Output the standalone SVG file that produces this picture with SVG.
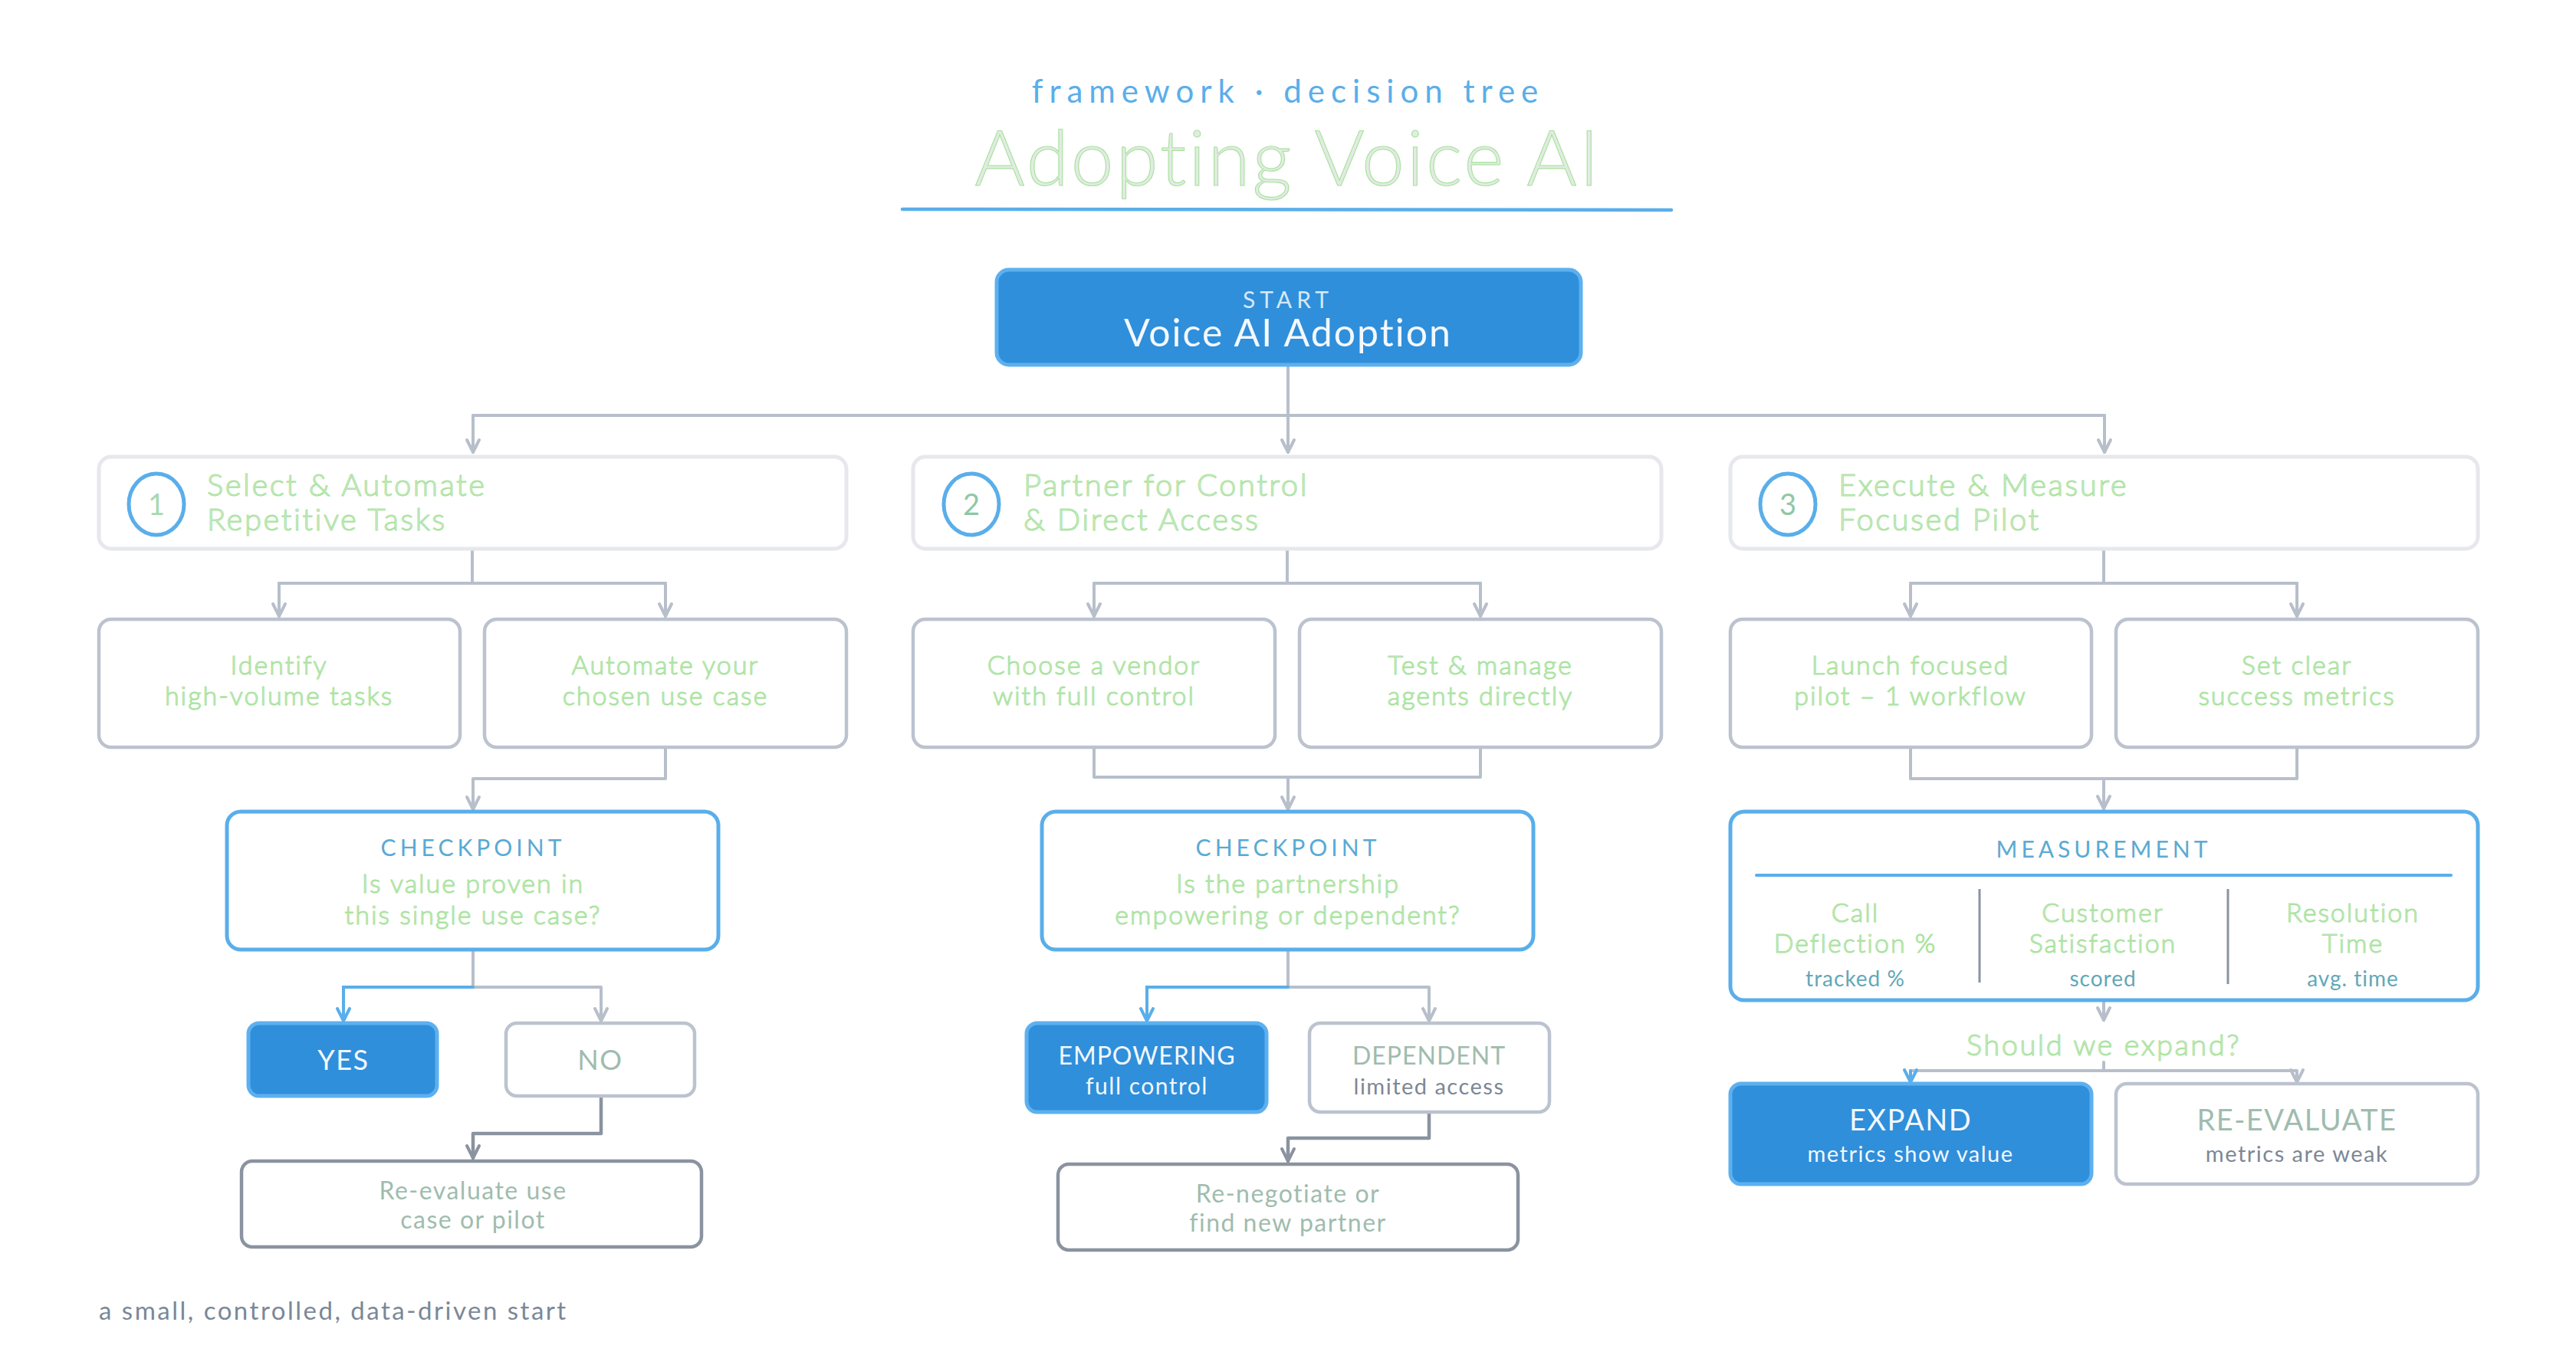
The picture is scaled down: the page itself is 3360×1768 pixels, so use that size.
<svg xmlns="http://www.w3.org/2000/svg" width="3360" height="1768" viewBox="0 0 3360 1768">
<defs>
<style>
text{font-family:Lato,"Noto Sans","Liberation Sans",sans-serif;text-anchor:middle}
.lt{fill:#e2ebe4;stroke:#a8e39c;stroke-width:1.1;font-weight:300}
.ph{font-size:40px;text-anchor:start;letter-spacing:2.5px}
.task{font-size:34px;letter-spacing:2px}
.box{fill:#fff;stroke:#bcc3cf;stroke-width:4.5}
.phase{fill:#fff;stroke:#e6e8ec;stroke-width:5}
.blue{fill:#fff;stroke:#5aaeea;stroke-width:5}
.solid{fill:#2f8fdb;stroke:#5db0ef;stroke-width:5}
.dark{fill:#fff;stroke:#8a939f;stroke-width:4.5}
.num{fill:none;stroke:#5aaeea;stroke-width:5}
.cap{font-size:30px;letter-spacing:5px;fill:#5aaad4}
.wt{fill:#f4f8fc}
.gg{fill:#9fbcae}
.dg{fill:#7d8794}
.ls{letter-spacing:1.5px}
.sub{fill:#62a8b8;font-size:28px;letter-spacing:1px}
.c{fill:none;stroke:#b8bfcb;stroke-width:4;stroke-linecap:round;stroke-linejoin:round}
.cb{fill:none;stroke:#5aaeea;stroke-width:4;stroke-linecap:round}
.cd{fill:none;stroke:#8a939f;stroke-width:4.5;stroke-linecap:round;stroke-linejoin:round}
</style>
<marker id="ag" viewBox="-20 -12 24 24" refX="0" refY="0" markerWidth="24" markerHeight="24" markerUnits="userSpaceOnUse" orient="auto"><path d="M-16,-8 L0,0 L-16,8" fill="none" stroke="#b8bfcb" stroke-width="4" stroke-linecap="round" stroke-linejoin="round"/></marker>
<marker id="ab" viewBox="-20 -12 24 24" refX="0" refY="0" markerWidth="24" markerHeight="24" markerUnits="userSpaceOnUse" orient="auto"><path d="M-16,-8 L0,0 L-16,8" fill="none" stroke="#5aaeea" stroke-width="4" stroke-linecap="round" stroke-linejoin="round"/></marker>
<marker id="ad" viewBox="-20 -12 24 24" refX="0" refY="0" markerWidth="24" markerHeight="24" markerUnits="userSpaceOnUse" orient="auto"><path d="M-16,-8 L0,0 L-16,8" fill="none" stroke="#8a939f" stroke-width="4" stroke-linecap="round" stroke-linejoin="round"/></marker>
</defs>
<rect width="3360" height="1768" fill="#fff"/>

<g id="title">
<text x="1680" y="134" font-size="42" letter-spacing="8" fill="#5aaeea">framework · decision tree</text>
<text class="lt" x="1680" y="242" font-size="100" letter-spacing="3">Adopting Voice AI</text>
<path d="M1177,273 Q1680,275 2180,274" fill="none" stroke="#5aaeea" stroke-width="4.5" stroke-linecap="round"/>
</g>

<g id="connectors">
<path class="c" d="M1680,478 V542 M617,542 H2745"/>
<path class="c" d="M617,542 V590" marker-end="url(#ag)"/>
<path class="c" d="M1680,542 V590" marker-end="url(#ag)"/>
<path class="c" d="M2745,542 V590" marker-end="url(#ag)"/>

<path class="c" d="M616,716 V761 M364,761 H868"/>
<path class="c" d="M364,761 V804" marker-end="url(#ag)"/>
<path class="c" d="M868,761 V804" marker-end="url(#ag)"/>
<path class="c" d="M1679,716 V761 M1427,761 H1931"/>
<path class="c" d="M1427,761 V804" marker-end="url(#ag)"/>
<path class="c" d="M1931,761 V804" marker-end="url(#ag)"/>
<path class="c" d="M2744,716 V761 M2492,761 H2996"/>
<path class="c" d="M2492,761 V804" marker-end="url(#ag)"/>
<path class="c" d="M2996,761 V804" marker-end="url(#ag)"/>

<path class="c" d="M868,975 V1016 H617 V1056" marker-end="url(#ag)"/>
<path class="c" d="M1427,975 V1014 H1931 V975 M1680,1014 V1056" marker-end="url(#ag)"/>
<path class="c" d="M2492,975 V1016 H2996 V975 M2744,1016 V1055" marker-end="url(#ag)"/>

<path class="c" d="M617,1239 V1288 H784 V1332" marker-end="url(#ag)"/>
<path class="cb" d="M617,1288 H448 V1332" marker-end="url(#ab)"/>
<path class="cd" d="M784,1430 V1479 H617 V1511" marker-end="url(#ad)"/>

<path class="c" d="M1680,1239 V1288 H1864 V1332" marker-end="url(#ag)"/>
<path class="cb" d="M1680,1288 H1496 V1332" marker-end="url(#ab)"/>
<path class="cd" d="M1864,1451 V1485 H1680 V1515" marker-end="url(#ad)"/>

<path class="c" d="M2744,1305 V1331" marker-end="url(#ag)"/>
<path class="c" d="M2744,1386 V1397 M2492,1397 H2996 V1412" marker-end="url(#ag)"/>
<path class="cb" d="M2492,1397 V1412" marker-end="url(#ab)"/>
</g>

<g id="start">
<rect class="solid" x="1300" y="352" width="762" height="124" rx="16"/>
<text x="1680" y="402" font-size="30" letter-spacing="6" fill="#d6e8f7">START</text>
<text class="wt" x="1680" y="452" font-size="50" letter-spacing="2">Voice AI Adoption</text>
</g>

<g id="phase1">
<rect class="phase" x="129" y="596" width="975" height="120" rx="16"/>
<ellipse class="num" cx="204" cy="658" rx="36" ry="40"/>
<text x="204" y="672" font-size="38" fill="#a9d9b0">1</text>
<text class="lt ph" x="270" y="647">Select &amp; Automate</text>
<text class="lt ph" x="270" y="692">Repetitive Tasks</text>
</g>
<g id="phase2">
<rect class="phase" x="1191" y="596" width="976" height="120" rx="16"/>
<ellipse class="num" cx="1267" cy="658" rx="36" ry="40"/>
<text x="1267" y="672" font-size="38" fill="#8fc7a5">2</text>
<text class="lt ph" x="1335" y="647">Partner for Control</text>
<text class="lt ph" x="1335" y="692">&amp; Direct Access</text>
</g>
<g id="phase3">
<rect class="phase" x="2257" y="596" width="975" height="120" rx="16"/>
<ellipse class="num" cx="2332" cy="658" rx="36" ry="40"/>
<text x="2332" y="672" font-size="38" fill="#8fc7a5">3</text>
<text class="lt ph" x="2398" y="647">Execute &amp; Measure</text>
<text class="lt ph" x="2398" y="692">Focused Pilot</text>
</g>

<g id="task1a"><rect class="box" x="129" y="808" width="471" height="167" rx="16"/>
<text class="lt task" x="364" y="880">Identify</text><text class="lt task" x="364" y="920">high-volume tasks</text></g>
<g id="task1b"><rect class="box" x="632" y="808" width="472" height="167" rx="16"/>
<text class="lt task" x="868" y="880">Automate your</text><text class="lt task" x="868" y="920">chosen use case</text></g>
<g id="task2a"><rect class="box" x="1191" y="808" width="472" height="167" rx="16"/>
<text class="lt task" x="1427" y="880">Choose a vendor</text><text class="lt task" x="1427" y="920">with full control</text></g>
<g id="task2b"><rect class="box" x="1695" y="808" width="472" height="167" rx="16"/>
<text class="lt task" x="1931" y="880">Test &amp; manage</text><text class="lt task" x="1931" y="920">agents directly</text></g>
<g id="task3a"><rect class="box" x="2257" y="808" width="471" height="167" rx="16"/>
<text class="lt task" x="2492" y="880">Launch focused</text><text class="lt task" x="2492" y="920">pilot – 1 workflow</text></g>
<g id="task3b"><rect class="box" x="2760" y="808" width="472" height="167" rx="16"/>
<text class="lt task" x="2996" y="880">Set clear</text><text class="lt task" x="2996" y="920">success metrics</text></g>

<g id="check1"><rect class="blue" x="296" y="1059" width="641" height="180" rx="18"/>
<text class="cap" x="617" y="1117">CHECKPOINT</text>
<text class="lt task" x="617" y="1165">Is value proven in</text>
<text class="lt task" x="617" y="1206">this single use case?</text></g>
<g id="check2"><rect class="blue" x="1359" y="1059" width="641" height="180" rx="18"/>
<text class="cap" x="1680" y="1117">CHECKPOINT</text>
<text class="lt task" x="1680" y="1165">Is the partnership</text>
<text class="lt task" x="1680" y="1206">empowering or dependent?</text></g>

<g id="measurement"><rect class="blue" x="2257" y="1059" width="975" height="246" rx="18"/>
<text class="cap" x="2744" y="1119">MEASUREMENT</text>
<path d="M2291,1142 H3197" stroke="#5aaeea" stroke-width="4" stroke-linecap="round"/>
<path d="M2582,1160 V1282 M2906,1160 V1284" stroke="#8a939f" stroke-width="3"/>
<text class="lt task" x="2420" y="1203">Call</text>
<text class="lt task" x="2420" y="1243">Deflection %</text>
<text class="sub" x="2420" y="1287">tracked %</text>
<text class="lt task" x="2743" y="1203">Customer</text>
<text class="lt task" x="2743" y="1243">Satisfaction</text>
<text class="sub" x="2743" y="1287">scored</text>
<text class="lt task" x="3069" y="1203">Resolution</text>
<text class="lt task" x="3069" y="1243">Time</text>
<text class="sub" x="3069" y="1287">avg. time</text></g>

<g id="yes"><rect class="solid" x="324" y="1335" width="246" height="95" rx="14"/>
<text class="wt ls" x="448" y="1396" font-size="36">YES</text></g>
<g id="no"><rect class="box" x="660" y="1335" width="246" height="95" rx="14"/>
<text class="gg ls" x="783" y="1396" font-size="36">NO</text></g>
<g id="reeval1"><rect class="dark" x="315" y="1515" width="600" height="112" rx="14"/>
<text class="gg ls" x="617" y="1565" font-size="32">Re-evaluate use</text>
<text class="gg ls" x="617" y="1603" font-size="32">case or pilot</text></g>

<g id="empowering"><rect class="solid" x="1339" y="1335" width="313" height="116" rx="14"/>
<text class="wt" x="1496" y="1389" font-size="32" letter-spacing="1">EMPOWERING</text>
<text class="wt ls" x="1496" y="1428" font-size="30">full control</text></g>
<g id="dependent"><rect class="box" x="1708" y="1335" width="313" height="116" rx="14"/>
<text class="gg" x="1864" y="1389" font-size="32" letter-spacing="1">DEPENDENT</text>
<text class="dg ls" x="1864" y="1428" font-size="29">limited access</text></g>
<g id="renegotiate"><rect class="dark" x="1380" y="1519" width="600" height="112" rx="14"/>
<text class="gg ls" x="1680" y="1569" font-size="32">Re-negotiate or</text>
<text class="gg ls" x="1680" y="1607" font-size="32">find new partner</text></g>

<g id="expand-q"><text class="lt" x="2744" y="1377" font-size="38" letter-spacing="2.5">Should we expand?</text></g>
<g id="expand"><rect class="solid" x="2257" y="1414" width="471" height="131" rx="14"/>
<text class="wt ls" x="2492" y="1475" font-size="38">EXPAND</text>
<text class="wt ls" x="2492" y="1516" font-size="29">metrics show value</text></g>
<g id="reevaluate3"><rect class="box" x="2760" y="1414" width="472" height="131" rx="14"/>
<text class="gg ls" x="2996" y="1475" font-size="38">RE-EVALUATE</text>
<text class="dg ls" x="2996" y="1516" font-size="29">metrics are weak</text></g>

<g id="footer"><text x="129" y="1722" font-size="33" letter-spacing="2.5" fill="#7a8898" style="text-anchor:start">a small, controlled, data-driven start</text></g>
</svg>
